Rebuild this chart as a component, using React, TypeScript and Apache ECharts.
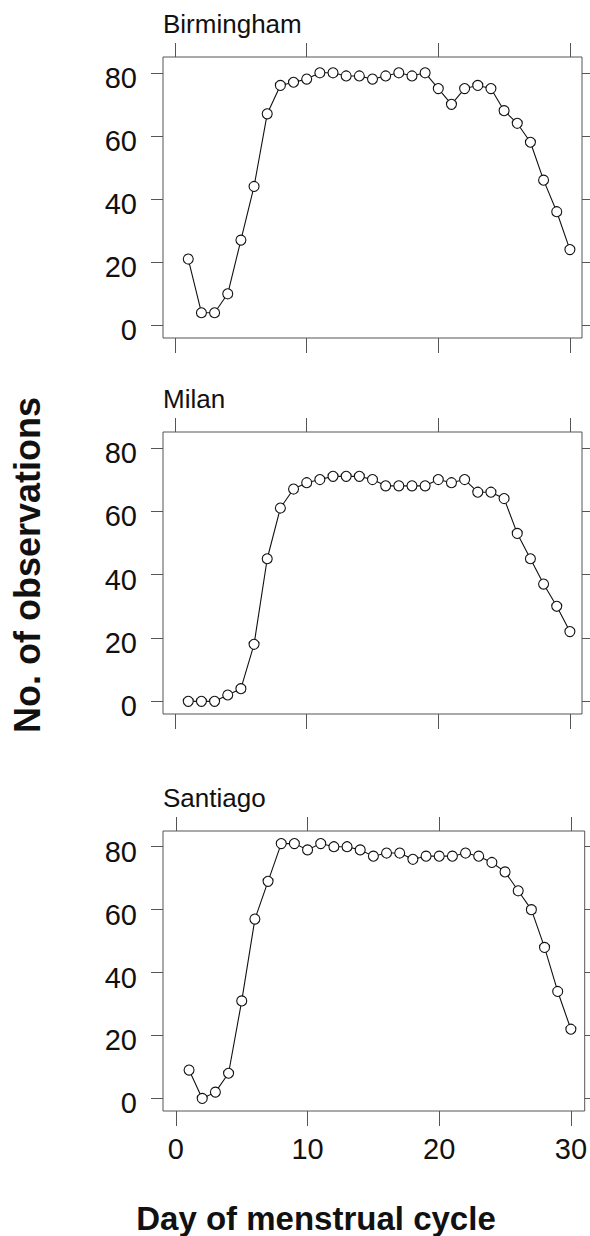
import React, { useEffect, useRef } from "react";
import * as echarts from "echarts";

const days = [1, 2, 3, 4, 5, 6, 7, 8, 9, 10, 11, 12, 13, 14, 15, 16, 17, 18, 19, 20, 21, 22, 23, 24, 25, 26, 27, 28, 29, 30];
const birmingham = [21, 4, 4, 10, 27, 44, 67, 76, 77, 78, 80, 80, 79, 79, 78, 79, 80, 79, 80, 75, 70, 75, 76, 75, 68, 64, 58, 46, 36, 24];
const milan = [0, 0, 0, 2, 4, 18, 45, 61, 67, 69, 70, 71, 71, 71, 70, 68, 68, 68, 68, 70, 69, 70, 66, 66, 64, 53, 45, 37, 30, 22];
const santiago = [9, 0, 2, 8, 31, 57, 69, 81, 81, 79, 81, 80, 80, 79, 77, 78, 78, 76, 77, 77, 77, 78, 77, 75, 72, 66, 60, 48, 34, 22];
const panelNames = ["Birmingham", "Milan", "Santiago"];
const xTicks = [0, 10, 20, 30];
const yTicks = [0, 20, 40, 60, 80];

const FONT = "'Liberation Sans', Arial, Helvetica, sans-serif";

export default function App() {
  const ref = useRef<HTMLDivElement>(null);
  useEffect(() => {
    if (!ref.current) return;
    const chart = echarts.init(ref.current, null, { renderer: "svg" });
    const seriesData = [birmingham, milan, santiago];
    const panels = [
      { top: 57, height: 281, right: 8, xmin: -0.92, xmax: 30.92 },
      { top: 432, height: 282, right: 8, xmin: -0.92, xmax: 30.92 },
      { top: 831, height: 280, right: 4, xmin: -0.98, xmax: 31.05 },
    ];
    const tickStyle = { color: "#555", width: 1 };
    const grids: any[] = [];
    const xAxes: any[] = [];
    const yAxes: any[] = [];
    const series: any[] = [];
    const titles: any[] = [];
    panels.forEach((p, i) => {
      grids.push({
        left: 163,
        right: p.right,
        top: p.top,
        height: p.height,
        show: true,
        borderColor: "#555",
        borderWidth: 1,
        backgroundColor: "transparent",
      });
      xAxes.push({
        gridIndex: i,
        type: "value",
        position: "bottom",
        min: p.xmin,
        max: p.xmax,
        axisLine: { show: false, onZero: false },
        splitLine: { show: false },
        axisTick: { show: true, length: 15, inside: false, lineStyle: tickStyle, customValues: xTicks },
        axisLabel: {
          show: i === 2,
          customValues: xTicks,
          fontSize: 29,
          fontFamily: FONT,
          color: "#111",
          margin: 23,
        },
      });
      xAxes.push({
        gridIndex: i,
        type: "value",
        position: "top",
        min: p.xmin,
        max: p.xmax,
        axisLine: { show: false, onZero: false },
        splitLine: { show: false },
        axisTick: { show: true, length: 14, inside: false, lineStyle: tickStyle, customValues: xTicks },
        axisLabel: { show: false },
      });
      yAxes.push({
        gridIndex: i,
        type: "value",
        position: "left",
        min: -4,
        max: 85,
        axisLine: { show: false, onZero: false },
        splitLine: { show: false },
        axisTick: { show: true, length: 12, inside: false, lineStyle: tickStyle, customValues: yTicks },
        axisLabel: {
          customValues: yTicks,
          fontSize: 29,
          fontFamily: FONT,
          color: "#111",
          margin: 26,
          verticalAlign: "top",
          lineHeight: 10,
        },
      });
      yAxes.push({
        gridIndex: i,
        type: "value",
        position: "right",
        min: -4,
        max: 85,
        axisLine: { show: false, onZero: false },
        splitLine: { show: false },
        axisTick: { show: true, length: 8, inside: false, lineStyle: tickStyle, customValues: yTicks },
        axisLabel: { show: false },
      });
      series.push({
        type: "line",
        xAxisIndex: i * 2,
        yAxisIndex: i * 2,
        data: days.map((d, k) => [d, seriesData[i][k]]),
        symbol: "circle",
        symbolSize: 10,
        showSymbol: true,
        lineStyle: { color: "#111", width: 1.1 },
        itemStyle: { color: "#fff", borderColor: "#111", borderWidth: 1.1 },
        emphasis: { disabled: true },
      });
      titles.push({
        text: panelNames[i],
        left: 163,
        top: p.top - 46,
        padding: 0,
        textStyle: { fontSize: 26, fontWeight: "normal", fontFamily: FONT, color: "#111" },
      });
    });
    chart.setOption({
      animation: false,
      backgroundColor: "#fff",
      title: titles,
      grid: grids,
      xAxis: xAxes,
      yAxis: yAxes,
      series,
      graphic: [
        {
          type: "text",
          x: 27,
          y: 565,
          rotation: Math.PI / 2,
          style: {
            text: "No. of observations",
            fontSize: 36,
            fontWeight: "bold",
            fontFamily: FONT,
            fill: "#111",
            align: "center",
            verticalAlign: "middle",
          },
        },
        {
          type: "text",
          x: 316,
          y: 1218,
          style: {
            text: "Day of menstrual cycle",
            fontSize: 33,
            fontWeight: "bold",
            fontFamily: FONT,
            fill: "#111",
            align: "center",
            verticalAlign: "middle",
          },
        },
      ],
    });
    return () => chart.dispose();
  }, []);
  return (
    <div
      ref={ref}
      style={{ position: "fixed", left: 0, top: 0, width: 590, height: 1236, background: "#fff" }}
    />
  );
}
